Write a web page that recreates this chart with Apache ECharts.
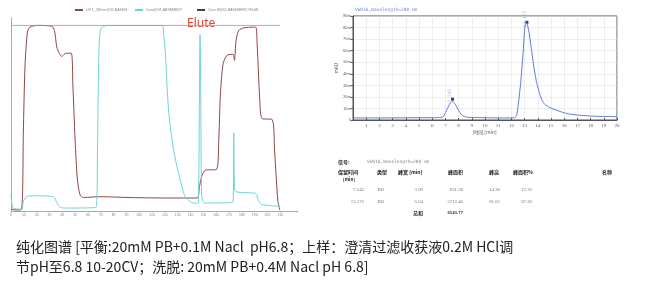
<!DOCTYPE html>
<html>
<head>
<meta charset="utf-8">
<script src="https://cdn.jsdelivr.net/npm/echarts@6/dist/echarts.min.js"></script>
<style>
html,body{margin:0;padding:0;background:#fff;}
#c{width:650px;height:285px;}
</style>
</head>
<body>
<div id="c"></div>
<script>
// ---- Left chromatogram (purification run) ----
const uvTime = [0, 4.4, 8.3, 9.6, 10.9, 12.8, 14.8, 20, 31.8, 33.9, 35.7, 37.8, 39.6, 42.2, 46.9, 48.2, 50, 51.8, 53.9, 56.5, 69.5, 95.6, 121.6, 145, 146.9, 149, 151.6, 160.2, 162, 163.3, 165.4, 168.5, 173.2, 174.2, 175.5, 177.6, 181.5, 190.6, 191.9, 194, 195.8, 203.6, 205.5, 208, 209.6];
const uvValue = [0.9, 0.5, 0.9, 41.8, 77.6, 96.4, 99.1, 100, 99.6, 97.3, 88.4, 84.8, 83.3, 84.8, 85.1, 68.6, 38.2, 16.7, 8.6, 7.3, 7.7, 7.2, 7.0, 7.0, 13.1, 19.4, 22.0, 22.4, 38.2, 63.3, 79.4, 83.9, 84.4, 81.2, 91.9, 97.3, 98.7, 99.1, 90.1, 59.7, 49.8, 49.3, 32.8, 5.9, 0.5];
const condTime = [0, 0.6, 1.8, 8.3, 9.6, 11.7, 14.8, 33, 35.7, 38.3, 43.5, 66.4, 67.4, 68.5, 70, 74.7, 117.7, 119, 120.3, 121.6, 122.9, 124.2, 126.8, 129.4, 133.3, 135.9, 139.8, 144.5, 146.1, 146.9, 147.4, 148, 148.7, 150.8, 171, 173.2, 173.7, 174.5, 178.9, 190.6, 193.2, 195.8, 209.6];
const condValue = [9, 4, 1.5, 1.0, 5, 7.5, 8.2, 7.8, 4.5, 2.0, 1.6, 2.0, 30, 85, 98, 100, 100, 95, 86, 68, 54, 45.5, 33, 24, 13, 7.7, 5, 4.1, 4.5, 60, 95, 60, 8, 4.3, 4.5, 5, 42, 11, 10, 9.5, 5, 3.5, 2.5];
const concTime = [0, 210];
const concValue = [100, 100];
const leftLegendNames = ['UV 1_280nm@01,BASEM', 'Cond@01,BASEMENT', 'Conc B@01,BASEMENT,ON,ML'];

// ---- Right HPLC chromatogram ----
const hplcTime = [0, 2, 4, 6, 6.5, 6.8, 6.98, 7.15, 7.35, 7.54, 7.73, 7.98, 8.24, 8.6, 9, 10, 11, 12, 12.27, 12.4, 12.5, 12.7, 12.9, 13.02, 13.17, 13.35, 13.53, 13.7, 13.9, 14.16, 14.35, 14.53, 14.8, 15.0, 15.4, 16, 16.4, 17, 17.9, 19, 19.5, 20];
const hplcValue = [1.8, 1.8, 1.9, 2.0, 2.2, 2.5, 5.8, 10, 14.4, 16.2, 13.8, 8.6, 4.3, 2.5, 2.2, 2.0, 1.8, 1.8, 2.0, 4.3, 11.5, 31.6, 60, 80.5, 84, 74.8, 60, 46, 33, 22, 16.5, 13.5, 11.5, 10.3, 8.6, 6.2, 5.2, 4.3, 3.5, 3.0, 3.1, 2.6];
const peakTime = [7.542, 13.172];
const peakMark = [18, 84.5];
const hplcTitle = 'VWD1A,Wavelength=280 nm';

// ---- Peak table ----
const tableHeader = ['保留时间', '类型', '峰宽 [min]', '峰面积', '峰高', '峰面积%', '名称'];
const colRetention = ['7.542', '13.172'];
const colType = ['BB', 'BB'];
const colWidth = ['3.99', '6.64'];
const colArea = ['831.38', '5712.40'];
const colHeight = ['14.30', '81.05'];
const colPct = ['12.70', '87.30'];
const totalLabel = '总和';
const totalArea = '6543.77';

// ---- Caption ----
const captionLines = [
  '纯化图谱 [平衡:20mM PB+0.1M Nacl  pH6.8；上样：澄清过滤收获液0.2M HCl调',
  '节pH至6.8 10-20CV；洗脱: 20mM PB+0.4M Nacl pH 6.8]'
];

const pairs = (xs, ys) => xs.map((x, i) => [x, ys[i]]);

const chart = echarts.init(document.getElementById('c'), null, {renderer: 'canvas'});
const tf = 'Noto Sans CJK SC';
const graphics = [];

// left: Elute
graphics.push({type: 'text', left: 187, top: 18, style: {text: 'Elute', fill: '#e2432f', font: '12px "Noto Sans"'}});
// right: title
graphics.push({type: 'text', left: 355, top: 7, style: {text: hplcTitle, fill: '#6d86d8', font: '4.5px "DejaVu Sans Mono"'}});

// table
const ty0 = 161.7, tyH = 171.7, tyH2 = 179.3, tyR = [190, 201.7], tyT = 212.7;
graphics.push({type: 'text', x: 338, y: ty0, style: {text: '信号:', fill: '#222', font: 'bold 5px "' + tf + '"', verticalAlign: 'middle'}});
graphics.push({type: 'text', x: 367, y: ty0, style: {text: hplcTitle, fill: '#888', font: '4.5px "DejaVu Sans Mono"', verticalAlign: 'middle'}});
const hx = [338, 377, 398, 448, 489, 513, 602];
tableHeader.forEach((h, i) => {
  graphics.push({type: 'text', x: hx[i], y: tyH, style: {text: h, fill: '#222', font: 'bold 5px "' + tf + '"', verticalAlign: 'middle'}});
});
graphics.push({type: 'text', x: 343, y: tyH2, style: {text: '[min]', fill: '#222', font: 'bold 4.5px "' + tf + '"', verticalAlign: 'middle'}});
const cols = [[colRetention, 364], [colType, 384], [colWidth, 423], [colArea, 463], [colHeight, 500], [colPct, 532]];
cols.forEach(([arr, x]) => {
  arr.forEach((v, r) => {
    graphics.push({type: 'text', x: x, y: tyR[r], style: {text: v, fill: '#777', font: '4.8px "Liberation Serif"', align: 'right', verticalAlign: 'middle'}});
  });
});
graphics.push({type: 'text', x: 423, y: tyT, style: {text: totalLabel, fill: '#222', font: 'bold 5px "' + tf + '"', align: 'right', verticalAlign: 'middle'}});
graphics.push({type: 'text', x: 463, y: tyT, style: {text: totalArea, fill: '#222', font: 'bold 4.8px "Liberation Serif"', align: 'right', verticalAlign: 'middle'}});

// caption
graphics.push({type: 'text', x: 16, y: 246.7, style: {text: captionLines[0], fill: '#222', font: '14px "' + tf + '"', verticalAlign: 'middle'}});
graphics.push({type: 'text', x: 16, y: 266.7, style: {text: captionLines[1], fill: '#222', font: '14px "' + tf + '"', verticalAlign: 'middle'}});

const legendBase = {orient: 'horizontal', itemWidth: 8, itemHeight: 2, itemGap: 2, icon: 'rect', textStyle: {fontSize: 3.5, color: '#888', padding: [0, 0, 0, -2]}, top: 8, padding: 0};

const option = {
  animation: false,
  backgroundColor: '#fff',
  legend: [
    Object.assign({}, legendBase, {left: 75, data: [leftLegendNames[0]]}),
    Object.assign({}, legendBase, {left: 135, data: [leftLegendNames[1]]}),
    Object.assign({}, legendBase, {left: 197, data: [leftLegendNames[2]]})
  ],
  grid: [
    {left: 11, top: 18, width: 286, height: 193},
    {left: 353, top: 16, width: 264, height: 104, show: true, borderColor: '#555', borderWidth: 1, backgroundColor: 'transparent'}
  ],
  xAxis: [
    {gridIndex: 0, type: 'value', min: 0, max: 223, interval: 10,
     axisLine: {lineStyle: {color: '#aaa', width: 1}}, axisTick: {length: 1.5, lineStyle: {color: '#aaa'}},
     axisLabel: {fontSize: 3.5, color: '#888', margin: 2, formatter: v => v > 210 ? '' : String(v)},
     splitLine: {show: false}},
    {gridIndex: 1, type: 'value', min: 0, max: 20, interval: 1,
     axisLine: {lineStyle: {color: '#555'}}, axisTick: {length: 2, inside: true, lineStyle: {color: '#555'}},
     axisLabel: {fontSize: 5, color: '#555', margin: 3, fontFamily: 'Liberation Serif', formatter: v => v === 0 ? '' : String(v)},
     splitLine: {show: true, lineStyle: {color: '#e2e2e2', width: 0.6}},
     name: '时间 [min]', nameLocation: 'middle', nameGap: 10, nameTextStyle: {fontSize: 5, color: '#555', fontFamily: tf}}
  ],
  yAxis: [
    {gridIndex: 0, type: 'value', min: 0, max: 104, interval: 4,
     axisLine: {show: true, lineStyle: {color: '#aaa'}}, axisTick: {show: true, length: 1.2, inside: true, lineStyle: {color: '#bbb'}},
     axisLabel: {show: false}, splitLine: {show: false}},
    {gridIndex: 1, type: 'value', min: 0, max: 90, interval: 10,
     axisLine: {show: true, lineStyle: {color: '#555'}}, axisTick: {show: true, length: 2, lineStyle: {color: '#555'}},
     axisLabel: {fontSize: 4.5, color: '#555', margin: 2, fontFamily: 'Liberation Serif', formatter: v => v === 0 ? '0' : v + 'm'},
     splitLine: {show: true, lineStyle: {color: '#e2e2e2', width: 0.6}},
     name: 'mAU', nameLocation: 'middle', nameGap: 13, nameRotate: 90, nameTextStyle: {fontSize: 4.5, color: '#555'}}
  ],
  series: [
    {name: leftLegendNames[0], type: 'line', xAxisIndex: 0, yAxisIndex: 0, data: pairs(uvTime, uvValue), showSymbol: false, smooth: 0.25,
     lineStyle: {color: '#8e4545', width: 1}, itemStyle: {color: '#8e4545'}},
    {name: leftLegendNames[1], type: 'line', xAxisIndex: 0, yAxisIndex: 0, data: pairs(condTime, condValue), showSymbol: false, smooth: 0.25,
     lineStyle: {color: '#6fd3d3', width: 1}, itemStyle: {color: '#6fd3d3'}},
    {name: leftLegendNames[2], type: 'line', xAxisIndex: 0, yAxisIndex: 0, data: pairs(concTime, concValue), showSymbol: false,
     lineStyle: {color: '#9a9a9a', width: 0.8}, itemStyle: {color: '#444'}},
    {name: 'hplc', type: 'line', xAxisIndex: 1, yAxisIndex: 1, data: pairs(hplcTime, hplcValue), showSymbol: false, smooth: 0.15,
     lineStyle: {color: '#5b79dc', width: 1}},
    {name: 'peaks', type: 'scatter', xAxisIndex: 1, yAxisIndex: 1, data: pairs(peakTime, peakMark), symbol: 'rect', symbolSize: 3,
     itemStyle: {color: '#111'},
     label: {show: true, formatter: p => p.value[0].toFixed(3), rotate: 90, fontSize: 4.5, color: '#8aa0e0', fontFamily: 'DejaVu Sans Mono',
       position: 'top', distance: 2}}
  ],
  graphic: graphics
};
chart.setOption(option);
</script>
</body>
</html>
